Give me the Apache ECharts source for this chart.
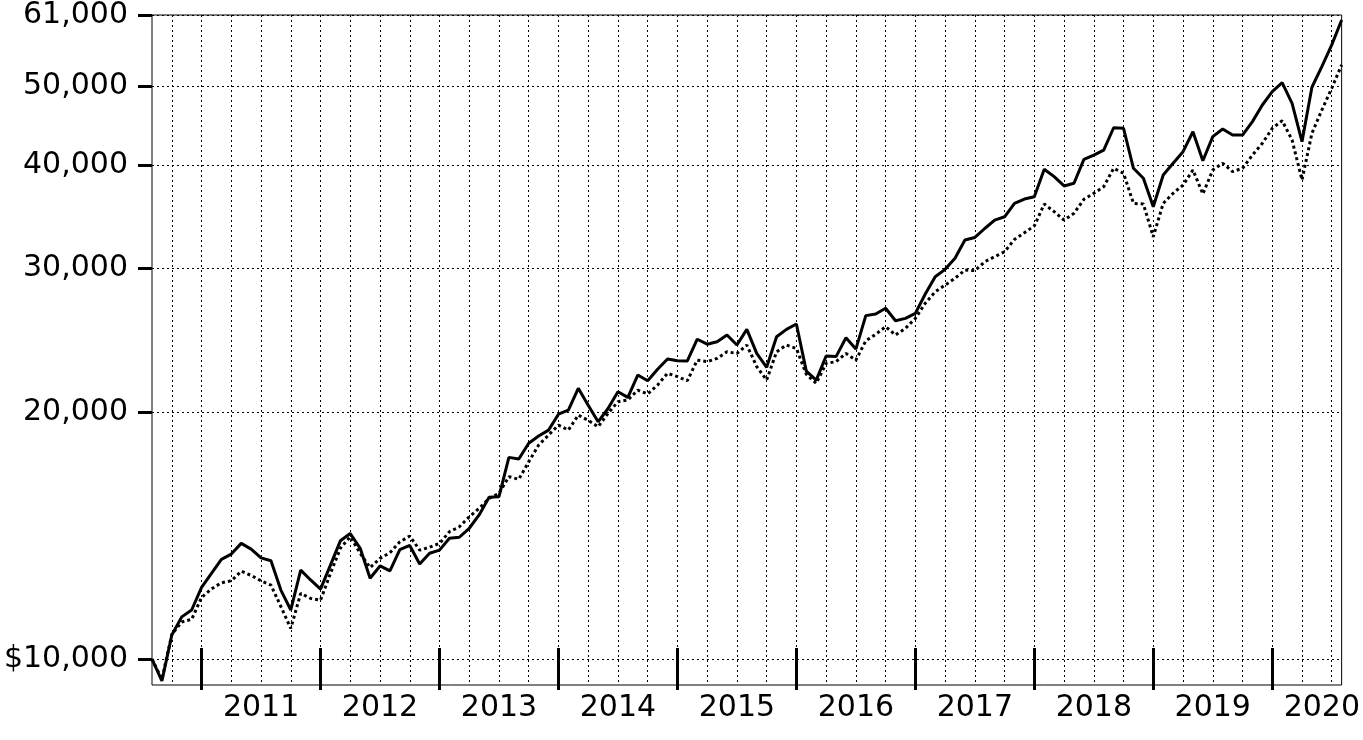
<!DOCTYPE html>
<html>
<head>
<meta charset="utf-8">
<script src="https://cdn.jsdelivr.net/npm/echarts@6/dist/echarts.min.js"></script>
<style>
html,body{margin:0;padding:0;background:#fff;}
#chart{width:1363px;height:740px;}
</style>
</head>
<body>
<div id="chart"></div>
<script>
// Monthly observations, Jul 2010 .. Jul 2020
const months = [];
for (let y = 2010; y <= 2020; y++) {
  for (let m = 1; m <= 12; m++) {
    if ((y === 2010 && m < 7) || (y === 2020 && m > 7)) continue;
    months.push(y + '-' + (m < 10 ? '0' + m : m));
  }
}

const solidValues = [
  10000, 9410, 10700, 11260, 11480, 12230, 12720, 13230, 13430, 13840, 13620, 13290,
  13180, 12140, 11480, 12840, 12490, 12170, 13020, 13940, 14230, 13650, 12550, 12990,
  12810, 13600, 13760, 13060, 13460, 13580, 14040, 14080, 14440, 14990, 15750, 15780,
  17620, 17540, 18330, 18710, 19020, 19890, 20120, 21390, 20400, 19470, 20210, 21180,
  20850, 22200, 21850, 22560, 23220, 23110, 23100, 24550, 24210, 24380, 24840, 24150,
  25240, 23590, 22690, 24720, 25240, 25620, 22450, 21890, 23420, 23380, 24650, 23880,
  26230, 26350, 26780, 25860, 26030, 26400, 27870, 29260, 29870, 30810, 32430, 32670,
  33500, 34300, 34620, 35950, 36390, 36620, 39560, 38750, 37750, 38040, 40680, 41170,
  41750, 44450, 44380, 39670, 38570, 35610, 38930, 40230, 41560, 43950, 40520, 43350,
  44290, 43550, 43550, 45220, 47380, 49180, 50440, 47610, 42750, 49800, 52770, 56090,
  60160
];

const dottedValues = [
  10000, 9450, 10720, 11100, 11180, 11890, 12180, 12390, 12460, 12800, 12650, 12460,
  12310, 11590, 10900, 12030, 11860, 11800, 12720, 13650, 14100, 13460, 12930, 13270,
  13480, 13900, 14130, 13580, 13690, 13840, 14300, 14500, 14910, 15270, 15700, 15930,
  16690, 16570, 17400, 18240, 18760, 19290, 19020, 19840, 19550, 19200, 19940, 20600,
  20700, 21280, 21050, 21590, 22310, 22100, 21850, 23150, 23050, 23260, 23700, 23590,
  24150, 22730, 21890, 23700, 24150, 23920, 22250, 21690, 22940, 23050, 23590, 23150,
  24440, 24890, 25430, 24840, 25310, 26030, 27160, 28050, 28580, 29130, 29810, 29760,
  30520, 30950, 31390, 32490, 33100, 33750, 35880, 35120, 34300, 34960, 36360, 36980,
  37670, 39670, 39110, 35950, 35880, 32730, 35950, 36980, 37840, 39480, 36910, 39480,
  40230, 39300, 39670, 41170, 42550, 44380, 45340, 42950, 38380, 43760, 46720, 49660,
  53030
];

const yTickValues = [10000, 20000, 30000, 40000, 50000, 61000];
const yTickLabels = ['$10,000', '20,000', '30,000', '40,000', '50,000', '61,000'];
const yMin = 9300;
const yMax = 61000;

const FONT = 'DejaVu Sans';
const chart = echarts.init(document.getElementById('chart'));

function isYearTick(i) { return i % 12 === 5; }
function isGridLine(i) { return i % 3 === 2; }
function isYearLabel(i) { return (i >= 11 && (i - 11) % 12 === 0 && i < 113) || i === 118; }

chart.setOption({
  animation: false,
  backgroundColor: '#fff',
  grid: {
    left: 152, top: 15, width: 1195, height: 670,
    show: true, borderColor: '#000', borderWidth: 1, backgroundColor: 'transparent'
  },
  xAxis: [{
    type: 'category',
    data: months,
    boundaryGap: false,
    position: 'bottom',
    offset: 5,
    axisLine: { show: false },
    axisTick: {
      show: true, inside: true, length: 42,
      interval: function (i) { return isYearTick(i); },
      lineStyle: { color: '#000', width: 3 }
    },
    axisLabel: {
      show: true,
      interval: function (i) { return isYearLabel(i); },
      formatter: function (v) { return v.slice(0, 4); },
      color: '#000', fontFamily: FONT, fontSize: 30, margin: 3
    },
    splitLine: {
      show: true,
      interval: function (i) { return isGridLine(i); },
      lineStyle: { color: '#000', type: [2, 3], width: 1 }
    }
  }],
  yAxis: [{
    type: 'log',
    logBase: 10,
    min: yMin,
    max: yMax,
    axisLine: { show: false },
    axisTick: {
      show: true, length: 14, customValues: yTickValues,
      lineStyle: { color: '#000', width: 3 }
    },
    axisLabel: {
      customValues: yTickValues,
      formatter: function (v) {
        const idx = yTickValues.indexOf(Math.round(v));
        return idx >= 0 ? yTickLabels[idx] : '';
      },
      color: '#000', fontFamily: FONT, fontSize: 30, margin: 24
    },
    splitLine: {
      show: true,
      lineStyle: { color: '#000', type: [2, 3], width: 1 }
    },
    minorTick: { show: false },
    minorSplitLine: { show: false }
  }],
  series: [{
    type: 'line',
    data: solidValues,
    showSymbol: false,
    symbol: 'none',
    lineStyle: { color: '#000', width: 3 },
    z: 3
  }, {
    type: 'line',
    data: dottedValues,
    showSymbol: false,
    symbol: 'none',
    lineStyle: { color: '#000', width: 3, type: [3, 3] },
    z: 2
  }]
});
</script>
</body>
</html>
